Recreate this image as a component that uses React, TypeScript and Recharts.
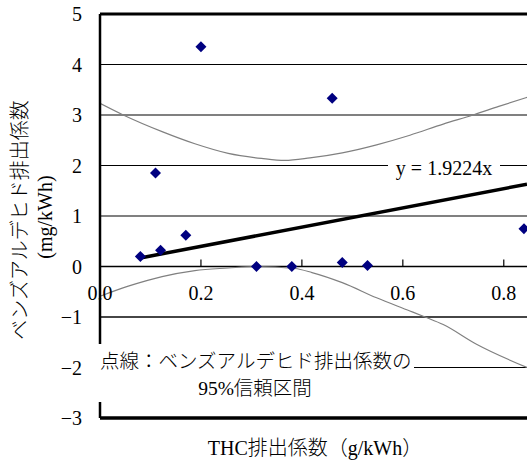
import {
  ComposedChart,
  CartesianGrid,
  Line,
  ReferenceDot,
  ReferenceLine,
  Scatter,
  XAxis,
  YAxis,
} from "recharts";

const FONT = "'Liberation Serif', 'Noto Sans CJK JP', serif";

// measured points: THC vs benzaldehyde
const thcX = [0.08, 0.12, 0.11, 0.17, 0.2, 0.31, 0.38, 0.46, 0.48, 0.53, 0.84];
const benzY = [0.2, 0.32, 1.85, 0.62, 4.35, 0.0, 0.0, 3.33, 0.08, 0.02, 0.75];

// fitted line y = 1.9224x (end points)
const fitX = [0.08, 0.846];
const fitY = [0.17, 1.63];

// 95% band, upper and lower curves
const upperX = [0, 0.046, 0.123, 0.188, 0.254, 0.32, 0.366, 0.416, 0.48, 0.548, 0.614, 0.68, 0.739, 0.79, 0.846];
const upperY = [3.23, 3.0, 2.67, 2.43, 2.24, 2.14, 2.1, 2.15, 2.25, 2.41, 2.6, 2.82, 3.0, 3.17, 3.35];
const lowerX = [0, 0.056, 0.123, 0.188, 0.254, 0.307, 0.386, 0.42, 0.48, 0.548, 0.614, 0.644, 0.68, 0.746, 0.846];
const lowerY = [-0.59, -0.39, -0.2, -0.08, -0.03, 0.0, -0.04, -0.12, -0.32, -0.62, -0.88, -1.0, -1.15, -1.54, -2.0];

const xTicks = [0, 0.2, 0.4, 0.6, 0.8];
const yTicks = [-3, -2, -1, 0, 1, 2, 3, 4, 5];

const zip = (xs: number[], ys: number[]) => xs.map((x, i) => ({ x, y: ys[i] }));

const points = zip(thcX, benzY);
const fit = zip(fitX, fitY);
const upper = zip(upperX, upperY);
const lower = zip(lowerX, lowerY);

function Diamond(props: any) {
  const { cx, cy } = props;
  const r = 5.5;
  return (
    <polygon
      points={`${cx},${cy - r} ${cx + r},${cy} ${cx},${cy + r} ${cx - r},${cy}`}
      fill="#000080"
    />
  );
}

const textBase = {
  position: "absolute" as const,
  fontSize: 20,
  lineHeight: "24px",
  whiteSpace: "nowrap" as const,
  fontWeight: 300,
};

export default function App() {
  return (
    <div style={{ position: "absolute", left: 0, top: 0, width: 527, height: 463, fontFamily: FONT, color: "#000" }}>
      <ComposedChart width={527} height={463} margin={{ top: 14, right: 0, bottom: 45, left: 0 }}>
        <CartesianGrid vertical={false} stroke="#000" strokeWidth={1.2} />
        <XAxis type="number" dataKey="x" domain={[0, 0.846]} hide allowDataOverflow />
        <YAxis
          type="number"
          dataKey="y"
          domain={[-3, 5]}
          ticks={yTicks}
          interval={0}
          width={100}
          tickLine={false}
          tickMargin={12}
          axisLine={{ stroke: "#000", strokeWidth: 2.5 }}
          tick={{ fill: "#000", fontSize: 20, fontFamily: FONT }}
          tickFormatter={(v) => String(v).replace("-", "−")}
        />
        <ReferenceLine y={3} stroke="#808080" strokeWidth={2} />
        <ReferenceLine y={1} stroke="#808080" strokeWidth={2} />
        <ReferenceLine y={-1} stroke="#333" strokeWidth={1.5} />
        <ReferenceLine y={0} stroke="#000" strokeWidth={1.5} />
        <ReferenceLine y={5} stroke="#000" strokeWidth={3} />
        <ReferenceLine y={-3} stroke="#000" strokeWidth={3.5} />
        {xTicks.slice(1).map((t) => (
          <ReferenceLine
            key={`tk${t}`}
            segment={[{ x: t, y: 0 }, { x: t, y: 0.14 }]}
            stroke="#000"
            strokeWidth={1.2}
            ifOverflow="visible"
          />
        ))}
        {xTicks.map((t) => (
          <ReferenceDot
            key={`lb${t}`}
            x={t}
            y={0}
            r={0}
            fill="none"
            stroke="none"
            ifOverflow="visible"
            label={{
              value: t.toFixed(1),
              position: "bottom",
              offset: 19,
              fill: "#000",
              fontSize: 20,
              fontFamily: FONT,
            }}
          />
        ))}
        <Line data={upper} dataKey="y" type="monotone" stroke="#808080" strokeWidth={1.2} dot={false} isAnimationActive={false} />
        <Line data={lower} dataKey="y" type="monotone" stroke="#808080" strokeWidth={1.2} dot={false} isAnimationActive={false} />
        <Line data={fit} dataKey="y" type="linear" stroke="#000" strokeWidth={3.5} dot={false} isAnimationActive={false} />
        <Scatter data={points} dataKey="y" shape={<Diamond />} isAnimationActive={false} />
      </ComposedChart>

      {/* equation label */}
      <div
        style={{
          ...textBase,
          left: 388,
          top: 157,
          width: 112,
          height: 22,
          background: "#fff",
          textAlign: "center",
          lineHeight: "22px",
        }}
      >
        y = 1.9224x
      </div>

      {/* band note */}
      <div style={{ position: "absolute", left: 94, top: 344, width: 320, height: 58, background: "#fff" }} />
      <div style={{ ...textBase, left: 100, top: 350, fontSize: 19.5 }}>点線：ベンズアルデヒド排出係数の</div>
      <div style={{ ...textBase, left: 255, top: 377, transform: "translateX(-50%)", fontSize: 19.5 }}>
        95%信頼区間
      </div>

      {/* y title */}
      <div style={{ ...textBase, left: 20, top: 220, transform: "translate(-50%, -50%) rotate(-90deg)" }}>
        ベンズアルデヒド排出係数
      </div>
      <div style={{ ...textBase, left: 45, top: 217, transform: "translate(-50%, -50%) rotate(-90deg)" }}>
        (mg/kWh)
      </div>

      {/* x title */}
      <div style={{ ...textBase, left: 315, top: 448, transform: "translate(-50%, -50%)" }}>
        THC排出係数（g/kWh）
      </div>
    </div>
  );
}
